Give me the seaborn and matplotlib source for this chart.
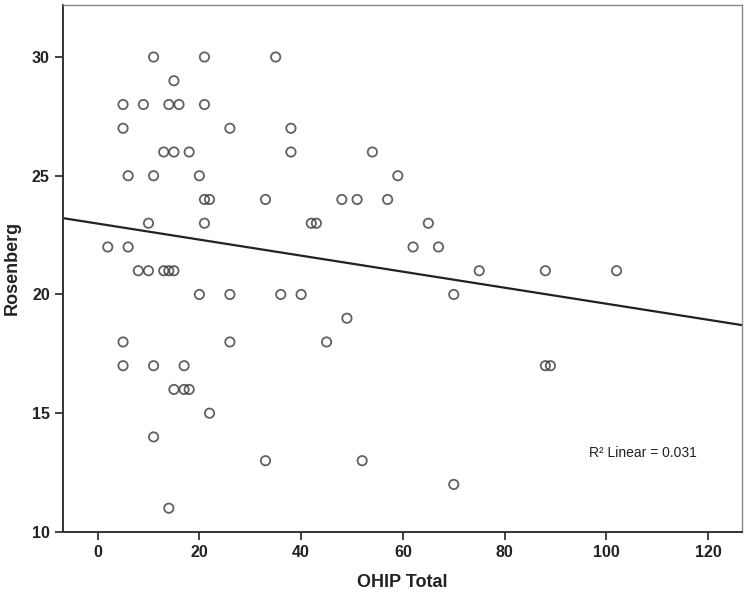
import numpy as np
import pandas as pd
import matplotlib
matplotlib.use('Agg')
import matplotlib.pyplot as plt
import seaborn as sbn

# values (OHIP Total, Rosenberg)
ohip = [11, 21, 35,
        15,
        5, 9, 14, 16, 21,
        5, 26, 38,
        13, 15, 18, 38, 54,
        6, 11, 20, 59,
        21, 22, 33, 48, 51, 57,
        10, 21, 42, 43, 65,
        2, 6, 62, 67,
        8, 10, 13, 14, 15, 75, 88, 102,
        20, 26, 36, 40, 70,
        49,
        5, 26, 45,
        5, 11, 17, 88, 89,
        15, 17, 18,
        22,
        11,
        33, 52,
        70,
        14]
rosenberg = [30, 30, 30,
             29,
             28, 28, 28, 28, 28,
             27, 27, 27,
             26, 26, 26, 26, 26,
             25, 25, 25, 25,
             24, 24, 24, 24, 24, 24,
             23, 23, 23, 23, 23,
             22, 22, 22, 22,
             21, 21, 21, 21, 21, 21, 21, 21,
             20, 20, 20, 20, 20,
             19,
             18, 18, 18,
             17, 17, 17, 17, 17,
             16, 16, 16,
             15,
             14,
             13, 13,
             12,
             11]
r2_text = 'R\u00b2 Linear = 0.031'

df = pd.DataFrame({'OHIP Total': ohip, 'Rosenberg': rosenberg})

sbn.set_style('white')
plt.rcParams['font.family'] = ['Liberation Sans', 'DejaVu Sans']

fig = plt.figure(figsize=(7.5, 5.97), dpi=100)
ax = fig.add_axes([0.084, 0.109, 0.905, 0.883])

# limits first so the fit line (truncate=False) runs across the whole box
ax.set_xlim(-6.8, 126.6)
ax.set_ylim(10, 32.2)

sbn.regplot(data=df, x='OHIP Total', y='Rosenberg', ax=ax, ci=None, truncate=False,
            scatter_kws={'s': 45, 'facecolors': 'none', 'edgecolors': '#3a3a3a', 'linewidths': 1.3},
            line_kws={'color': '#222222', 'lw': 1.6})

ax.set_xlim(-6.8, 126.6)
ax.set_ylim(10, 32.2)
ax.set_xticks(np.arange(0, 121, 20))
ax.set_yticks(np.arange(10, 31, 5))
ax.tick_params(axis='both', direction='out', length=6, width=1.2, color='#222222',
               labelsize=11.5, bottom=True, left=True)
for lab in ax.get_xticklabels() + ax.get_yticklabels():
    lab.set_fontweight('bold')
    lab.set_color('#222222')

ax.set_xlabel('OHIP Total', fontsize=13, fontweight='bold', color='#222222', labelpad=10)
ax.set_ylabel('Rosenberg', fontsize=13, fontweight='bold', color='#222222', labelpad=8)

for side in ['left', 'bottom']:
    ax.spines[side].set_color('#333333')
    ax.spines[side].set_linewidth(1.4)
for side in ['top', 'right']:
    ax.spines[side].set_color('#888888')
    ax.spines[side].set_linewidth(1.0)

ax.text(96.5, 13.15, r2_text, fontsize=10, color='#222222')

fig.savefig('out.png', dpi=100)
